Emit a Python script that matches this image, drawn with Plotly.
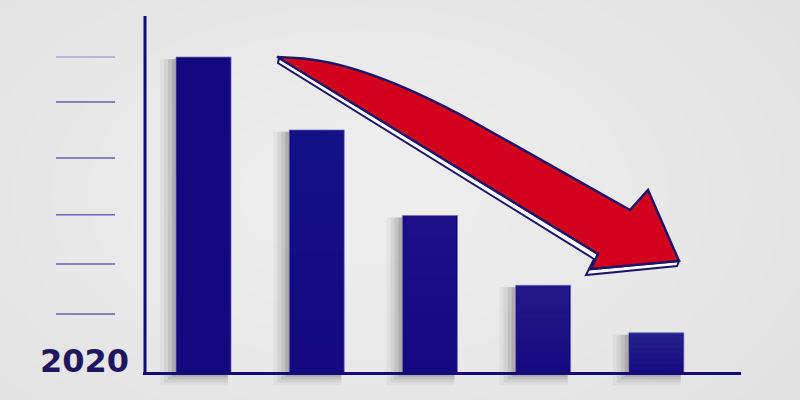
import plotly.graph_objects as go

# five falling bars (no labels on the chart)
positions = [1, 2, 3, 4, 5]
values = [100, 77, 50, 28, 13]
guide_levels = [100, 85.8, 68.1, 50.2, 34.7, 18.9]
year_label = "2020"

navy = "#14087e"
ink = "#1e1468"
red = "#d3001d"
bar_w = 0.486
px_x = 1 / 113.2   # one pixel in x units
px_y = 1 / 3.17    # one pixel in y units

fig = go.Figure()

# blurred shadow on the left of and under each bar
for ext, a in [(16, 0.045), (12, 0.065), (8, 0.09), (4, 0.13)]:
    drop = ext * 0.7 * px_y
    fig.add_trace(go.Bar(x=positions, y=[v - 0.6 + drop for v in values], base=-drop,
                         offset=-bar_w / 2 - ext * px_x, width=bar_w + ext * px_x - 3 * px_x,
                         marker_color=f"rgba(30,30,30,{a})", marker_line_width=0,
                         hoverinfo="skip"))

fig.add_trace(go.Bar(x=positions, y=values, width=bar_w,
                     marker=dict(color=navy, line=dict(color="rgba(120,115,190,0.7)", width=1))))

# lighter top on the bars (stronger on the short ones)
tint = [0.03, 0.05, 0.08, 0.11, 0.14]
steps = 8
for i in range(1, steps + 1):
    f = i / steps
    fig.add_trace(go.Bar(x=positions, y=[v * f for v in values], base=[v * (1 - f) for v in values],
                         width=bar_w - 2 * px_x,
                         marker_color=[f"rgba(120,130,230,{t * 1.6 / steps:.4f})" for t in tint],
                         marker_line_width=0, hoverinfo="skip"))

# pixel overlay for the decorations
fig.add_trace(go.Scatter(x=[0], y=[0], xaxis="x2", yaxis="y2", mode="markers",
                         marker_opacity=0, hoverinfo="skip"))

shapes = []
for k in range(12):
    rx = 500 - k * 38
    ry = 310 - k * 24
    shapes.append(dict(type="circle", xref="x2", yref="y2", x0=360 - rx, x1=360 + rx,
                       y0=195 - ry, y1=195 + ry, fillcolor="rgba(255,255,255,0.05)",
                       line_width=0, layer="below"))

for i, g in enumerate(guide_levels):
    shapes.append(dict(type="line", xref="x2", yref="y", x0=56, x1=115, y0=g, y1=g,
                       line=dict(color="#aaa4c6" if i == 0 else "#6a62ad", width=1.5)))

shapes.append(dict(type="line", xref="x2", yref="y2", x0=145, x1=145, y0=16, y1=375,
                   line=dict(color="#160a7a", width=3)))
shapes.append(dict(type="line", xref="x2", yref="y2", x0=143, x1=741, y0=373.5, y1=373.5,
                   line=dict(color="#160a7a", width=3)))

# arrow: white rim underneath, red body on top
shapes.append(dict(type="path", xref="x2", yref="y2",
                   path="M 279 58 L 598 254 L 591 269 L 679 261 L 677 266 L 586 275 L 594 259 L 278 63 Z",
                   fillcolor="white", line=dict(color=ink, width=2)))
shapes.append(dict(type="path", xref="x2", yref="y2",
                   path="M 277 57 L 295 58 Q 362 61 472 121 L 630 210 L 648 190 L 679 261 L 591 269 L 598 254 L 279 58 Z",
                   fillcolor=red, line=dict(color=ink, width=2.5)))

fig.update_layout(
    width=800, height=400,
    margin=dict(l=0, r=0, t=0, b=0),
    paper_bgcolor="#e2e2e2", plot_bgcolor="rgba(0,0,0,0)",
    barmode="overlay", showlegend=False,
    xaxis=dict(range=[-0.798, 6.269], visible=False, fixedrange=True),
    yaxis=dict(range=[-8.2, 117.98], visible=False, fixedrange=True),
    xaxis2=dict(range=[0, 800], overlaying="x", visible=False),
    yaxis2=dict(range=[400, 0], overlaying="y", visible=False),
    shapes=shapes,
    annotations=[dict(x=84, y=361, xref="x2", yref="y2", text=year_label, showarrow=False,
                      font=dict(family="DejaVu Sans", size=32, weight="bold", color="#1f165f"))],
)

fig.write_html("out.html", config={"displayModeBar": False},
               post_script="document.body.style.margin='0';document.body.style.overflow='hidden';")
